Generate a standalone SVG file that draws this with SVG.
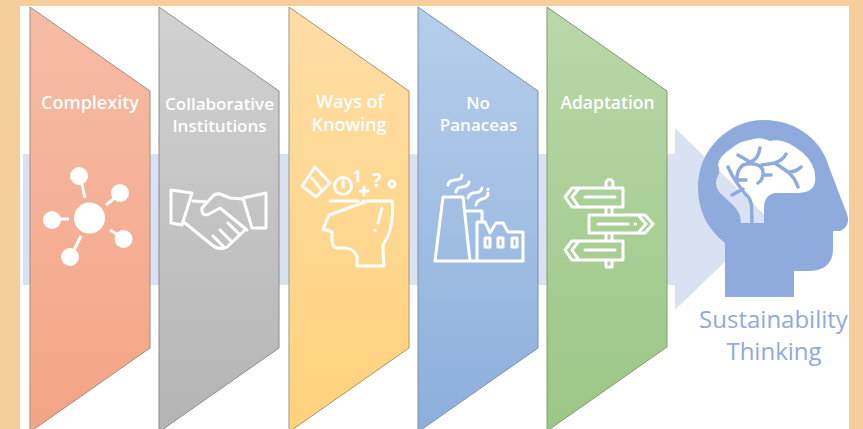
<svg xmlns="http://www.w3.org/2000/svg" width="863" height="429" viewBox="0 0 863 429">
<defs>
<linearGradient id="g1" x1="0" y1="0" x2="0" y2="1"><stop offset="0" stop-color="#F6BCA6"/><stop offset="1" stop-color="#F4A485"/></linearGradient>
<linearGradient id="g2" x1="0" y1="0" x2="0" y2="1"><stop offset="0" stop-color="#D2D2D2"/><stop offset="1" stop-color="#B4B4B4"/></linearGradient>
<linearGradient id="g3" x1="0" y1="0" x2="0" y2="1"><stop offset="0" stop-color="#FFDDA6"/><stop offset="1" stop-color="#FFD27C"/></linearGradient>
<linearGradient id="g4" x1="0" y1="0" x2="0" y2="1"><stop offset="0" stop-color="#B6CEEA"/><stop offset="1" stop-color="#8DAFDD"/></linearGradient>
<linearGradient id="g5" x1="0" y1="0" x2="0" y2="1"><stop offset="0" stop-color="#BAD7A9"/><stop offset="1" stop-color="#9BC785"/></linearGradient>
</defs>
<style>
.panel{stroke-width:1}
.lbl{font-family:"Open Sans","Liberation Sans",sans-serif;font-size:17.500px;font-weight:600;fill:#fff;text-anchor:middle}
.ico{fill:none;stroke:#fff;stroke-width:3;stroke-linejoin:round;stroke-linecap:round}
.sol{fill:#fff}
.st{font-family:"Open Sans","Liberation Sans",sans-serif;font-size:24px;fill:#8FAADC;text-anchor:middle}
.br{fill:none;stroke:#8FAADC;stroke-width:4;stroke-linecap:round;stroke-linejoin:round}
.gl{font-family:"Open Sans","Liberation Sans",sans-serif;font-weight:700;fill:#fff;text-anchor:middle}
</style>
<rect width="863" height="429" fill="#F5CE9C"/>
<rect x="20" y="6" width="829" height="423" fill="#fff"/>
<g id="connectors">
<path id="main-arrow" d="M23 154H675V128L769 219L675 310V285H23Z" fill="#D9E2F3"/>
</g>
<g id="complexity">
<path class="panel" d="M30 7L150 91V348L30 432Z" fill="url(#g1)" stroke="#A08C80"/>
<text class="lbl" x="90" y="108.500" style="font-size:18px">Complexity</text>
<g class="sol"><circle cx="89.500" cy="218" r="15.500"/><circle cx="79" cy="176" r="9"/><circle cx="120" cy="193" r="9"/><circle cx="52" cy="220" r="9"/><circle cx="123.500" cy="239" r="9"/><circle cx="70" cy="257" r="9"/></g>
<path class="ico" d="M81 180L85 198M117 196L106 205M55 219H69M110 230L120 236M81 236L73 252" style="stroke-linecap:butt"/>
</g>
<g id="collaborative-institutions">
<path class="panel" d="M159 7L279 91V348L159 432Z" fill="url(#g2)" stroke="#8C8C92"/>
<text class="lbl" x="219.500" y="109.500" style="font-size:17px">Collaborative</text>
<text class="lbl" x="219.500" y="132" style="font-size:17px">Institutions</text>
<path class="ico" d="M171 190L192 193L182 225L171 223ZM266 193L243 198L252 228H266ZM193 201L207 202M243 199L230 198L220 194Q215 193 212 197L202 208Q201 216 208 214.500L220 208L247 230M185 223L212 245Q220 251 227 247L245 230M228 223L240 235M220 230L232 242M213 236L223 246"/>
</g>
<g id="ways-of-knowing">
<path class="panel" d="M289 7L409 91V348L289 432Z" fill="url(#g3)" stroke="#A8946C"/>
<text class="lbl" x="350" y="108" style="font-size:18px">Ways of</text>
<text class="lbl" x="349" y="131" style="font-size:18px">Knowing</text>
<path class="ico" d="M330 201H358M363 201H363.500M368 201H392Q394 213 390 230Q388 238 383 245Q383 255 384 266H357V257Q355 249 345 248H338Q332 248 332 240V232L323 229L329 215ZM382 208L378 223M375 230V230.500M315 167L330 183L316 197L302 186ZM312 178L322 191M343 181V187"/>
<circle class="ico" cx="343" cy="186" r="8.500"/>
<circle class="ico" cx="392" cy="184" r="3"/>
<path class="ico" d="M364 187V195M360 191H368"/>
<text class="gl" x="357" y="182" font-size="16">1</text>
<text class="gl" x="377" y="187" font-size="20">?</text>
</g>
<g id="no-panaceas">
<path class="panel" d="M418 7L538 91V348L418 432Z" fill="url(#g4)" stroke="#7C8FA8"/>
<text class="lbl" x="478" y="108.500" style="font-size:17px">No</text>
<text class="lbl" x="478.500" y="130.500" style="font-size:17px">Panaceas</text>
<path class="ico" d="M443 197H463L470 261H435ZM465 211H482V222M477 261V222H485L490 233L496 223H503L508 232H523V261H435M485 238h5v9h-5zM498 238h5v9h-5zM512 238h5v9h-5zM448 185Q449 180 455 180Q462 180 462 175M456 192Q457 187 462 187Q469 186 469 182M468 198Q469 194 473 193Q481 193 482 188M476 205Q477 200 482 199Q488 198 488 193M488 189V189.500"/>
</g>
<g id="adaptation">
<path class="panel" d="M547 7L667 91V347L547 431Z" fill="url(#g5)" stroke="#7F9C70"/>
<text class="lbl" x="607.500" y="108.500" style="font-size:17.500px">Adaptation</text>
<path class="ico" d="M606 188V183A3.500 3.500 0 0 1 613 183V188M606 207V215M612 207V215M606 233V241M612 233V241M606 260V267H612V260M623 188H572L565 197L572 207H623ZM579 188L572 197L579 207M589 215H645L653 224L645 233H589ZM638 215L646 224L638 233M623 241H572L565 250L572 260H623ZM579 241L572 250L579 260M585 197H615M598 224H628M635 224H635.500M585 250H615"/>
</g>
<g id="sustainability-thinking">
<path d="M698 187C698 150 728 120 764 120C796 120 822 140 829 167L847 214Q851 226 840 231H833V250Q832 271 808 271H794V297H725V243Q698 222 698 187Z M741 223Q741 213 733 205L720 193Q714 186 717 178Q721 172 718 165Q719 156 732 148Q740 141 750 140Q760 136 770 141Q782 138 795 147Q799 150 803 153Q817 165 815 182Q813 193 797 193H775Q764 195 764 208V223Z" fill="#8FAADC" fill-rule="evenodd"/>
<path class="br" d="M752 224L751.500 205Q750 197 746 195L737 183Q732 176 728 167M743 189L732 195M737 183Q736 170 743 165Q752 162 760 166Q764 170 763 175Q762 181 758 183M763 175H771M737 180H746M738 155L750 162Q758 160 760 148M762 165L775 163Q783 160 786 154M775 163L788 172Q796 172 801 167M788 172Q795 178 798 187" style="stroke-width:3.500px"/>
<text class="st" x="773.500" y="328">Sustainability</text>
<text class="st" x="774" y="360">Thinking</text>
</g>
</svg>
